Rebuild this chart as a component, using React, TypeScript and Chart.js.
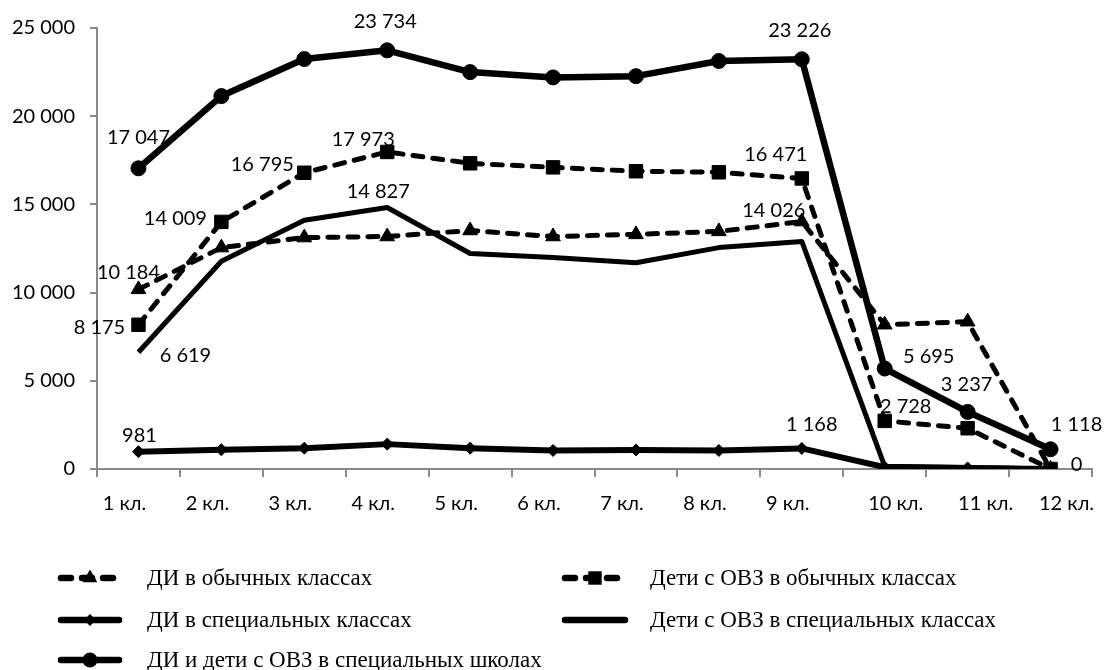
import React, { useEffect, useRef } from "react";
import { Chart, registerables } from "chart.js";

Chart.register(...registerables);

// ---- data ----
const categories = ["1 кл.", "2 кл.", "3 кл.", "4 кл.", "5 кл.", "6 кл.", "7 кл.", "8 кл.", "9 кл.", "10 кл.", "11 кл.", "12 кл."];
const diOrdinary = [10184, 12550, 13120, 13180, 13520, 13180, 13300, 13470, 14026, 8180, 8350, 0];
const ovzOrdinary = [8175, 14009, 16795, 17973, 17330, 17100, 16880, 16820, 16471, 2728, 2310, 0];
const diSpecialClasses = [981, 1090, 1180, 1410, 1180, 1050, 1080, 1050, 1168, 100, 60, 0];
const ovzSpecialClasses = [6619, 11780, 14100, 14827, 12220, 11990, 11690, 12550, 12900, 150, 80, 0];
const specialSchools = [17047, 21140, 23240, 23734, 22500, 22200, 22270, 23130, 23226, 5695, 3237, 1118];
const yTicks = [0, 5000, 10000, 15000, 20000, 25000];
const seriesNames = [
  "ДИ в обычных классах",
  "Дети с ОВЗ в обычных классах",
  "ДИ в специальных классах",
  "Дети с ОВЗ в специальных классах",
  "ДИ и дети с ОВЗ в специальных школах",
];
const seriesValues = [diOrdinary, ovzOrdinary, diSpecialClasses, ovzSpecialClasses, specialSchools];

// which points carry a value label (series index, point index) and label offsets
const valueLabels = [
  { ds: 4, i: 0, dx: 0, dy: -31 },
  { ds: 4, i: 3, dx: -2, dy: -29 },
  { ds: 4, i: 8, dx: -2, dy: -29 },
  { ds: 4, i: 9, dx: 44, dy: -12 },
  { ds: 4, i: 10, dx: -1, dy: -27 },
  { ds: 4, i: 11, dx: 26, dy: -25 },
  { ds: 1, i: 0, dx: -39, dy: 3 },
  { ds: 1, i: 1, dx: -46, dy: -3 },
  { ds: 1, i: 2, dx: -42, dy: -8 },
  { ds: 1, i: 3, dx: -24, dy: -12 },
  { ds: 1, i: 8, dx: -26, dy: -24 },
  { ds: 1, i: 9, dx: 21, dy: -14 },
  { ds: 1, i: 11, dx: 26, dy: -4 },
  { ds: 0, i: 0, dx: -10, dy: -17 },
  { ds: 0, i: 8, dx: -28, dy: -11 },
  { ds: 2, i: 0, dx: 1, dy: -16 },
  { ds: 2, i: 8, dx: 10, dy: -24 },
  { ds: 3, i: 0, dx: 47, dy: 3 },
  { ds: 3, i: 3, dx: -9, dy: -16 },
];
const xLabelShift = [-14, -14, -14, -14, -14, -14, -14, -14, -14, 11, 18, 16];

const AXIS = "#8a8a8a";
const TICK_FONT = "Lato";

const fmt = (v: number) => String(Math.round(v)).replace(/\B(?=(\d{3})+(?!\d))/g, "\u00A0");

type Style = { dash: number[]; width: number; point: string; radius: number };
const styles: Style[] = [
  { dash: [10, 10], width: 5, point: "triangle", radius: 8.5 },
  { dash: [10, 10], width: 5, point: "rect", radius: 9.5 },
  { dash: [], width: 6, point: "rectRot", radius: 6 },
  { dash: [], width: 5, point: "none", radius: 0 },
  { dash: [], width: 6.5, point: "circle", radius: 7.5 },
];

// legend layout
const legendItems = [
  { ds: 0, x0: 58, x1: 122, tx: 147, y: 578 },
  { ds: 1, x0: 562, x1: 628, tx: 650, y: 578 },
  { ds: 2, x0: 58, x1: 122, tx: 147, y: 620 },
  { ds: 3, x0: 562, x1: 628, tx: 650, y: 620 },
  { ds: 4, x0: 58, x1: 122, tx: 147, y: 660 },
];

function drawMarker(ctx: CanvasRenderingContext2D, kind: string, x: number, y: number, r: number) {
  ctx.beginPath();
  if (kind === "triangle") {
    ctx.moveTo(x, y - r);
    ctx.lineTo(x + r * 0.866, y + r * 0.5);
    ctx.lineTo(x - r * 0.866, y + r * 0.5);
    ctx.closePath();
  } else if (kind === "rect") {
    const s = r * Math.SQRT1_2;
    ctx.rect(x - s, y - s, 2 * s, 2 * s);
  } else if (kind === "rectRot") {
    ctx.moveTo(x, y - r);
    ctx.lineTo(x + r, y);
    ctx.lineTo(x, y + r);
    ctx.lineTo(x - r, y);
    ctx.closePath();
  } else if (kind === "circle") {
    ctx.arc(x, y, r, 0, Math.PI * 2);
  } else {
    return;
  }
  ctx.fill();
}

export default function App() {
  const ref = useRef<HTMLCanvasElement>(null);

  useEffect(() => {
    const canvas = ref.current;
    if (!canvas) return;

    const overlay = {
      id: "overlay",
      afterDatasetsDraw(chart: any) {
        const ctx: CanvasRenderingContext2D = chart.ctx;
        ctx.save();
        ctx.font = `20px ${TICK_FONT}`;
        ctx.fillStyle = "#000";
        ctx.textAlign = "center";
        ctx.textBaseline = "middle";
        for (const l of valueLabels) {
          const pt = chart.getDatasetMeta(l.ds).data[l.i];
          ctx.fillText(fmt(seriesValues[l.ds][l.i]), pt.x + l.dx, pt.y + l.dy);
        }
        // category labels
        const xs = chart.scales.x;
        categories.forEach((c, i) => {
          ctx.fillText(c, xs.getPixelForValue(i) + xLabelShift[i], xs.top + 35);
        });
        // legend
        for (const it of legendItems) {
          const st = styles[it.ds];
          ctx.save();
          ctx.strokeStyle = "#000";
          ctx.fillStyle = "#000";
          ctx.lineWidth = 6.5;
          ctx.lineCap = "round";
          ctx.setLineDash(st.dash.length ? [10, 11] : []);
          ctx.beginPath();
          ctx.moveTo(it.x0 + 3, it.y);
          ctx.lineTo(it.x1 - 3, it.y);
          ctx.stroke();
          ctx.setLineDash([]);
          drawMarker(ctx, st.point, (it.x0 + it.x1) / 2, it.y, st.radius);
          ctx.restore();
          ctx.font = "23px 'Liberation Serif'";
          ctx.textAlign = "left";
          ctx.fillText(seriesNames[it.ds], it.tx, it.y + 1);
        }
        ctx.restore();
      },
    };

    const chart = new Chart(canvas, {
      type: "line",
      data: {
        labels: categories,
        datasets: seriesValues.map((vals, k) => ({
          label: seriesNames[k],
          data: vals,
          borderColor: "#000",
          backgroundColor: "#000",
          borderWidth: styles[k].width,
          borderDash: styles[k].dash,
          borderCapStyle: (styles[k].dash.length ? "round" : "butt") as CanvasLineCap,
          borderJoinStyle: "round" as CanvasLineJoin,
          tension: 0,
          pointStyle: styles[k].point === "none" ? false : (styles[k].point as any),
          pointRadius: styles[k].radius,
          pointBorderWidth: 1,
          pointBackgroundColor: "#000",
          pointBorderColor: "#000",
          fill: false,
        })),
      },
      options: {
        animation: false,
        responsive: false,
        devicePixelRatio: 1,
        layout: { padding: { top: 28, right: 14, left: 0, bottom: 0 } },
        plugins: {
          legend: { display: false },
          tooltip: { enabled: false },
          title: { display: false },
        },
        scales: {
          x: {
            type: "category",
            offset: true,
            grid: {
              offset: true,
              drawOnChartArea: false,
              drawTicks: true,
              tickLength: 8,
              color: AXIS,
              lineWidth: 2,
            },
            border: { color: AXIS, width: 2 },
            ticks: {
              color: "rgba(0,0,0,0)",
              font: { family: TICK_FONT, size: 20 },
              padding: 10,
              maxRotation: 0,
              autoSkip: false,
            },
            afterFit: (s: any) => {
              s.height = 201;
            },
          },
          y: {
            min: yTicks[0],
            max: yTicks[yTicks.length - 1],
            afterBuildTicks: (s: any) => {
              s.ticks = yTicks.map((v) => ({ value: v }));
            },
            grid: {
              drawOnChartArea: false,
              drawTicks: true,
              tickLength: 7,
              color: AXIS,
              lineWidth: 2,
            },
            border: { color: AXIS, width: 2 },
            ticks: {
              color: "#000",
              font: { family: TICK_FONT, size: 20 },
              padding: 15,
              callback: (v: any) => fmt(Number(v)),
            },
            afterFit: (s: any) => {
              s.width = 97;
            },
          },
        },
      },
      plugins: [overlay],
    });

    return () => chart.destroy();
  }, []);

  return (
    <div style={{ position: "absolute", left: 0, top: 0, width: 1106, height: 670, background: "#fff" }}>
      <canvas ref={ref} width={1106} height={670} style={{ display: "block" }} />
    </div>
  );
}
